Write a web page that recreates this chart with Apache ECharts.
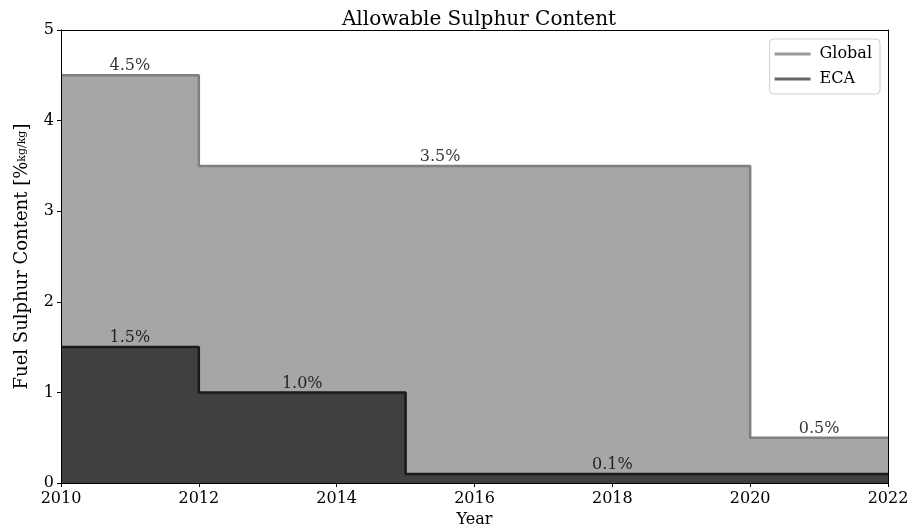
<!DOCTYPE html>
<html>
<head>
<meta charset="utf-8">
<script src="https://cdn.jsdelivr.net/npm/echarts@6/dist/echarts.min.js"></script>
<style>html,body{margin:0;padding:0;background:#fff}#c{width:913px;height:530px}</style>
</head>
<body>
<div id="c"></div>
<script>
const globalX = [2010, 2012, 2020, 2022];
const globalY = [4.5, 3.5, 0.5, 0.5];
const ecaX = [2010, 2012, 2015, 2022];
const ecaY = [1.5, 1.0, 0.1, 0.1];
const labelX = [2011, 2015.5, 2021, 2011, 2013.5, 2018];
const labelY = [4.5, 3.5, 0.5, 1.5, 1.0, 0.1];
const labelText = ['4.5%', '3.5%', '0.5%', '1.5%', '1.0%', '0.1%'];
const xTicks = [2010, 2012, 2014, 2016, 2018, 2020, 2022];
const yTicks = [0, 1, 2, 3, 4, 5];

const FONT = 'DejaVu Serif';
const chart = echarts.init(document.getElementById('c'));
const hiddenAxis = {
  axisLine: {show: true, onZero: false, lineStyle: {color: '#000', width: 1}},
  axisTick: {show: false}, axisLabel: {show: false}, splitLine: {show: false}, z: 10
};
chart.setOption({
  animation: false,
  backgroundColor: '#fff',
  title: {
    text: 'Allowable Sulphur Content', left: 474, textAlign: 'center', top: 5,
    textStyle: {fontFamily: FONT, fontSize: 20, fontWeight: 'normal', color: '#000'}
  },
  legend: {
    data: ['Global', 'ECA'],
    right: 33, top: 39, orient: 'vertical',
    icon: 'rect', itemWidth: 36, itemHeight: 3, itemGap: 9,
    padding: [7, 8, 7, 5],
    borderColor: '#d0d0d0', borderWidth: 1, borderRadius: 4,
    textStyle: {fontFamily: FONT, fontSize: 16, color: '#000', padding: [0, 0, 0, 4]}
  },
  grid: {left: 61, right: 25, top: 30, bottom: 47, outerBoundsMode: 'none', containLabel: false},
  xAxis: [{
    type: 'value', min: 2010, max: 2022, interval: 2,
    name: 'Year', nameLocation: 'middle', nameGap: 29,
    nameTextStyle: {fontFamily: FONT, fontSize: 16, color: '#000'},
    axisLine: {onZero: false, lineStyle: {color: '#000'}},
    axisTick: {show: true, length: 4, lineStyle: {color: '#000'}},
    axisLabel: {fontFamily: FONT, fontSize: 16, color: '#000', margin: 8,
      formatter: v => xTicks.includes(v) ? String(v) : ''},
    splitLine: {show: false}, z: 10
  }, Object.assign({type: 'value', min: 2010, max: 2022, position: 'top'}, hiddenAxis)],
  yAxis: [{
    type: 'value', min: 0, max: 5, interval: 1,
    name: '{a|Fuel Sulphur Content }{b|[%}{c|kg/kg}{b|]}', nameLocation: 'middle', nameGap: 30,
    nameTextStyle: {fontFamily: FONT, fontSize: 18, color: '#000',
      rich: {a: {fontFamily: FONT, fontSize: 18}, b: {fontFamily: FONT, fontSize: 18}, c: {fontFamily: FONT, fontSize: 11}}},
    axisLine: {onZero: false, lineStyle: {color: '#000'}},
    axisTick: {show: true, length: 4, lineStyle: {color: '#000'}},
    axisLabel: {fontFamily: FONT, fontSize: 16, color: '#000', margin: 7,
      formatter: v => yTicks.includes(v) ? String(v) : ''},
    splitLine: {show: false}, z: 10
  }, Object.assign({type: 'value', min: 0, max: 5, position: 'right'}, hiddenAxis)],
  series: [
    {
      name: 'Global', type: 'line', step: 'end', symbol: 'none',
      data: globalX.map((x, i) => [x, globalY[i]]),
      itemStyle: {color: '#999'},
      lineStyle: {color: '#7f7f7f', width: 2.5},
      areaStyle: {color: '#a6a6a6', opacity: 1},
      z: 2
    },
    {
      name: 'ECA', type: 'line', step: 'end', symbol: 'none',
      data: ecaX.map((x, i) => [x, ecaY[i]]),
      itemStyle: {color: '#666'},
      lineStyle: {color: '#1a1a1a', width: 2.5},
      areaStyle: {color: '#404040', opacity: 1},
      z: 3
    },
    {
      type: 'scatter', symbolSize: 0, silent: true,
      data: labelX.map((x, i) => ({value: [x, labelY[i]], label: {formatter: labelText[i]}})),
      label: {show: true, position: 'top', distance: 1, fontFamily: FONT, fontSize: 16, color: '#000'},
      z: 5
    }
  ]
});
</script>
</body>
</html>
